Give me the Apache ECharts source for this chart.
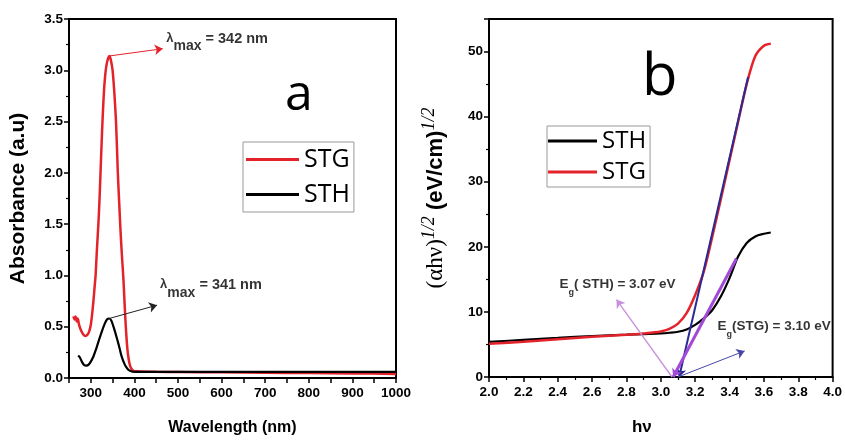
<!DOCTYPE html>
<html><head><meta charset="utf-8">
<script src="https://cdn.jsdelivr.net/npm/echarts@6/dist/echarts.min.js"></script>
<style>html,body{margin:0;padding:0;background:#fff}#c{width:845px;height:441px}</style>
</head><body><div id="c"></div>
<script>
// ---- Panel a: absorbance spectra ----
const wlSTG  = [260,263,265,268,270,273,277,282,288,292,296,300,303,306,309,311,314,318,321,324,327,330,333,336,340,343,346,350,354,358,362,365,368,371,375,378,381,384,387,390,394,398,405,450,500,600,700,800,900,1000];
const absSTG = [0.60,0.57,0.60,0.55,0.58,0.52,0.47,0.43,0.41,0.42,0.45,0.52,0.62,0.75,0.90,1.00,1.25,1.55,1.85,2.20,2.52,2.78,2.95,3.05,3.12,3.14,3.10,3.00,2.78,2.48,2.00,1.72,1.45,1.22,0.95,0.68,0.45,0.28,0.18,0.12,0.085,0.07,0.065,0.06,0.058,0.055,0.05,0.048,0.045,0.04];
const wlSTH  = [271,275,280,285,290,295,300,306,312,318,325,332,337,342,347,352,357,361,366,370,375,380,385,390,395,410,500,600,700,800,900,1000];
const absSTH = [0.22,0.20,0.155,0.125,0.12,0.13,0.16,0.21,0.28,0.36,0.45,0.53,0.57,0.58,0.56,0.50,0.43,0.37,0.29,0.22,0.16,0.115,0.085,0.07,0.063,0.06,0.06,0.06,0.06,0.06,0.06,0.06];
const arrowA1 = [[343,3.14],[465,3.21]];
const arrowA2 = [[342,0.58],[452,0.71]];
const textA1Pos = [473,3.27], textA1 = ' = 342 nm';
const textA2Pos = [459,0.87], textA2 = ' = 341 nm';

// ---- Panel b: Tauc plot ----
const hvSTH = [2.0,2.2,2.4,2.6,2.8,2.9,3.0,3.05,3.1,3.15,3.2,3.25,3.3,3.35,3.4,3.45,3.5,3.55,3.6,3.64];
const tSTH  = [5.4,5.7,6.0,6.3,6.5,6.6,6.7,6.8,6.95,7.3,8.0,9.0,10.3,12.4,15.2,18.5,20.6,21.6,22.0,22.2];
const hvSTG = [2.0,2.2,2.4,2.6,2.8,2.9,3.0,3.05,3.1,3.15,3.2,3.25,3.3,3.35,3.4,3.45,3.5,3.55,3.6,3.64];
const tSTG  = [5.1,5.4,5.8,6.2,6.5,6.7,7.0,7.4,8.2,9.8,12.6,16.2,21.6,27.4,33.3,39.2,45.0,49.3,50.9,51.2];
const tangentSTG = [[3.107,0],[3.508,46.1]];
const tangentSTH = [[3.072,0],[3.44,18.2]];
const arrowB1 = [[3.065,0],[2.742,11.9]];
const arrowB2 = [[3.10,0],[3.488,4.0]];
const textB1Pos = [2.41,13.8], textB1 = '( STH) = 3.07 eV';
const textB2Pos = [3.33,7.4], textB2 = '(STG) = 3.10 eV';

const xTicksA = {min:250,max:1000,interval:50};
const yTicksA = {min:0,max:3.5,interval:0.5};
const xTicksB = {min:2,max:4,interval:0.2};
const yTicksB = {min:0,max:55,interval:10};

const FN = '"Liberation Sans",Arial,sans-serif';
const zip = (a,b)=>a.map((v,i)=>[v,b[i]]);
const RED = '#e3222a', BLACK = '#000';

function axisCommon(){
  return {
    axisLine:{show:true,onZero:false,lineStyle:{color:'#000',width:2}},
    axisTick:{show:true,inside:false,length:5,lineStyle:{color:'#000',width:1.5}},
    splitLine:{show:false},
    axisLabel:{color:'#000',fontFamily:FN,fontWeight:'bold',fontSize:13.5,margin:6}
  };
}
const lamRich = {
  l:{fontFamily:FN,fontWeight:'bold',fontSize:13,color:'#000',verticalAlign:'top',lineHeight:15},
  s:{fontFamily:FN,fontWeight:'bold',fontSize:14,color:'#000',verticalAlign:'bottom',lineHeight:22},
  n:{fontFamily:FN,fontWeight:'bold',fontSize:14.5,color:'#000',verticalAlign:'top',lineHeight:15}
};
const egRich = {
  e:{fontFamily:FN,fontWeight:'bold',fontSize:13.5,color:'#000',verticalAlign:'top',lineHeight:15},
  g:{fontFamily:FN,fontWeight:'bold',fontSize:9,color:'#000',verticalAlign:'bottom',lineHeight:20},
  n:{fontFamily:FN,fontWeight:'bold',fontSize:13.5,color:'#000',verticalAlign:'top',lineHeight:15}
};
function arrowLine(pts,color,width,xi,yi,sym){
  return {type:'lines',coordinateSystem:'cartesian2d',xAxisIndex:xi,yAxisIndex:yi,silent:true,z:5,
    symbol:sym||['none','arrow'],symbolSize:[0,8],
    lineStyle:{color:color,width:width,opacity:1},
    data:[{coords:pts}]};
}
function textSeries(pos,fmt,rich,xi,yi){
  return {type:'scatter',xAxisIndex:xi,yAxisIndex:yi,symbolSize:0,silent:true,z:6,
    data:[pos],label:{show:true,position:'right',distance:0,formatter:fmt,rich:rich}};
}

const chart = echarts.init(document.getElementById('c'),null,{renderer:'canvas'});
const ax = axisCommon();
chart.setOption({
  animation:false,
  backgroundColor:'#fff',
  title:[
    {text:'a',left:280,top:66,textStyle:{fontFamily:'"Open Sans",Arial,sans-serif',fontWeight:'normal',fontSize:50,color:'#000'}},
    {text:'b',left:637,top:44,textStyle:{fontFamily:'"Open Sans",Arial,sans-serif',fontWeight:'normal',fontSize:58,color:'#000'}}
  ],
  grid:[
    {left:69,right:449,top:19,bottom:63,show:true,borderColor:'#000',borderWidth:2,backgroundColor:'transparent'},
    {left:489,right:12,top:19,bottom:63,show:true,borderColor:'#000',borderWidth:2,backgroundColor:'transparent'}
  ],
  legend:[
    {left:243,top:142,orient:'vertical',data:['STG','STH'],icon:'rect',itemWidth:53,itemHeight:3,itemGap:10,
     padding:[5,4,5,3],borderColor:'#999',borderWidth:1,backgroundColor:'#fff',
     textStyle:{fontFamily:'"Open Sans",Arial,sans-serif',fontSize:25,color:'#000'},selectedMode:false},
    {left:547,top:126,orient:'vertical',data:['STH','STG'],icon:'rect',itemWidth:49,itemHeight:3,itemGap:7,
     padding:[3,4,3,1],borderColor:'#999',borderWidth:1,backgroundColor:'#fff',
     textStyle:{fontFamily:'"Open Sans",Arial,sans-serif',fontSize:24,color:'#000'},selectedMode:false}
  ],
  xAxis:[
    Object.assign({},ax,{gridIndex:0,type:'value',min:xTicksA.min,max:xTicksA.max,interval:xTicksA.interval,
      axisLabel:Object.assign({},ax.axisLabel,{margin:8,formatter:v=>(v%100===0?String(v):'')}),
      name:'Wavelength (nm)',nameLocation:'middle',nameGap:42,
      nameTextStyle:{fontFamily:FN,fontWeight:'bold',fontSize:16,color:'#000'}}),
    Object.assign({},ax,{gridIndex:1,type:'value',min:xTicksB.min,max:xTicksB.max,interval:xTicksB.interval,
      minorTick:{show:true,splitNumber:2,length:3,lineStyle:{color:'#000',width:1.2}},
      axisLabel:Object.assign({},ax.axisLabel,{margin:8,formatter:v=>v.toFixed(1)}),
      name:'hν',nameLocation:'middle',nameGap:42,
      nameTextStyle:{fontFamily:FN,fontWeight:'bold',fontSize:17,color:'#000',padding:[0,38,0,0]}})
  ],
  yAxis:[
    Object.assign({},ax,{gridIndex:0,type:'value',min:yTicksA.min,max:yTicksA.max,interval:yTicksA.interval,
      minorTick:{show:true,splitNumber:2,length:3,lineStyle:{color:'#000',width:1.2}},
      axisLabel:Object.assign({},ax.axisLabel,{formatter:v=>v.toFixed(1)}),
      name:'Absorbance (a.u)',nameLocation:'middle',nameGap:40,nameRotate:90,
      nameTextStyle:{fontFamily:FN,fontWeight:'bold',fontSize:21,color:'#000'}}),
    Object.assign({},ax,{gridIndex:1,type:'value',min:yTicksB.min,max:yTicksB.max,interval:yTicksB.interval,
      minorTick:{show:true,splitNumber:2,length:3,lineStyle:{color:'#000',width:1.2}},
      axisLabel:Object.assign({},ax.axisLabel,{formatter:v=>(v%10===0?String(v):'')}),
      name:'{a|(αhν)}{s|1/2}{b| (eV/cm)}{s|1/2}',nameLocation:'middle',nameGap:42,nameRotate:90,
      nameTextStyle:{rich:{
        a:{fontFamily:'"Liberation Serif","DejaVu Serif",serif',fontSize:23,color:'#000',verticalAlign:'bottom',lineHeight:27},
        s:{fontFamily:'"Liberation Serif","DejaVu Serif",serif',fontStyle:'italic',fontSize:18,color:'#000',verticalAlign:'top',lineHeight:27},
        b:{fontFamily:FN,fontWeight:'bold',fontSize:22,color:'#000',verticalAlign:'bottom',lineHeight:27}
      }}})
  ],
  series:[
    {name:'STG',type:'line',xAxisIndex:0,yAxisIndex:0,data:zip(wlSTG,absSTG),showSymbol:false,smooth:0.3,
     lineStyle:{color:RED,width:2.5},itemStyle:{color:RED},z:3},
    {name:'STH',type:'line',xAxisIndex:0,yAxisIndex:0,data:zip(wlSTH,absSTH),showSymbol:false,smooth:0.3,
     lineStyle:{color:BLACK,width:2.2},itemStyle:{color:BLACK},z:4},
    arrowLine(arrowA1,RED,1,0,0),
    arrowLine(arrowA2,'#222',1,0,0),
    textSeries(textA1Pos,'{l|λ}{s|max}{n|'+textA1+'}',lamRich,0,0),
    textSeries(textA2Pos,'{l|λ}{s|max}{n|'+textA2+'}',lamRich,0,0),

    {name:'STH',type:'line',xAxisIndex:1,yAxisIndex:1,data:zip(hvSTH,tSTH),showSymbol:false,smooth:0.3,
     lineStyle:{color:BLACK,width:2.2},itemStyle:{color:BLACK},z:3},
    {name:'STG',type:'line',xAxisIndex:1,yAxisIndex:1,data:zip(hvSTG,tSTG),showSymbol:false,smooth:0.3,
     lineStyle:{color:RED,width:2.5},itemStyle:{color:RED},z:3},
    arrowLine(tangentSTG.slice().reverse(),'#2a2a95',2,1,1),
    arrowLine(tangentSTH.slice().reverse(),'#a24ad6',3,1,1),
    arrowLine(arrowB1,'#c88fdc',1.3,1,1),
    arrowLine(arrowB2,'#4646a8',1,1,1),
    textSeries(textB1Pos,'{e|E}{g|g}{n|'+textB1+'}',egRich,1,1),
    textSeries(textB2Pos,'{e|E}{g|g}{n|'+textB2+'}',egRich,1,1)
  ]
});
</script></body></html>
